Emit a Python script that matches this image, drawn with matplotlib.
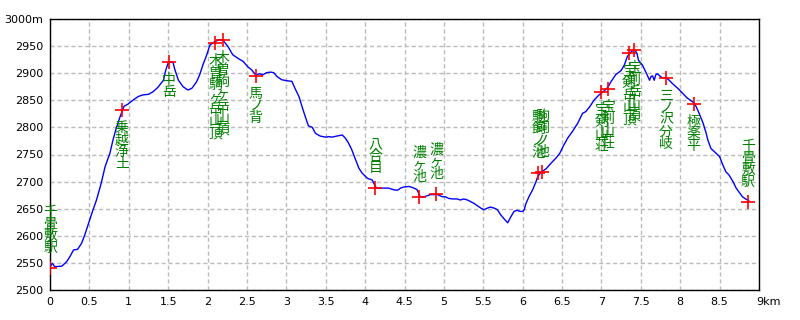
import matplotlib
matplotlib.use("Agg")
import matplotlib.pyplot as plt
from matplotlib.transforms import offset_copy

# elevation profile (km, m)
dist_km = [0.00, 0.03, 0.06, 0.15, 0.21, 0.25, 0.30, 0.35, 0.40, 0.44, 0.49, 0.53,
           0.59, 0.65, 0.70, 0.76, 0.80, 0.84, 0.89, 0.94, 0.99, 1.06, 1.12, 1.18,
           1.25, 1.31, 1.37, 1.44, 1.47, 1.50, 1.56, 1.58, 1.63, 1.69, 1.75, 1.80,
           1.86, 1.90, 1.94, 1.99, 2.03, 2.09, 2.15, 2.20, 2.26, 2.32, 2.39, 2.45,
           2.51, 2.56, 2.61, 2.66, 2.70, 2.75, 2.80, 2.84, 2.88, 2.94, 3.01, 3.07,
           3.11, 3.16, 3.20, 3.24, 3.28, 3.33, 3.37, 3.43, 3.50, 3.54, 3.58, 3.64,
           3.71, 3.75, 3.79, 3.83, 3.88, 3.92, 3.96, 4.03, 4.09, 4.13, 4.15, 4.24,
           4.30, 4.36, 4.41, 4.45, 4.49, 4.56, 4.62, 4.66, 4.70, 4.75, 4.79, 4.83,
           4.92, 4.98, 5.02, 5.06, 5.11, 5.17, 5.21, 5.25, 5.30, 5.34, 5.38, 5.42,
           5.47, 5.51, 5.55, 5.59, 5.64, 5.68, 5.72, 5.76, 5.81, 5.85, 5.89, 5.93,
           5.97, 6.00, 6.02, 6.04, 6.08, 6.13, 6.17, 6.19, 6.23, 6.30, 6.36, 6.42,
           6.47, 6.51, 6.57, 6.63, 6.70, 6.76, 6.80, 6.85, 6.91, 6.97, 7.04, 7.08,
           7.12, 7.18, 7.25, 7.29, 7.33, 7.38, 7.42, 7.45, 7.47, 7.52, 7.54, 7.58,
           7.61, 7.63, 7.65, 7.67, 7.69, 7.71, 7.74, 7.78, 7.82, 7.86, 7.90, 7.97,
           8.03, 8.09, 8.16, 8.20, 8.24, 8.29, 8.33, 8.35, 8.39, 8.45, 8.50, 8.54,
           8.58, 8.62, 8.67, 8.71, 8.75, 8.79, 8.83, 8.87]
elev_m = [2543, 2549, 2543, 2544, 2552, 2561, 2574, 2575, 2586, 2601, 2623, 2641,
          2666, 2697, 2728, 2752, 2777, 2798, 2820, 2839, 2843, 2851, 2857, 2860,
          2861, 2866, 2874, 2887, 2906, 2919, 2921, 2909, 2887, 2875, 2869, 2872,
          2884, 2897, 2915, 2934, 2952, 2958, 2962, 2960, 2949, 2934, 2927, 2922,
          2912, 2906, 2897, 2899, 2897, 2901, 2902, 2901, 2894, 2888, 2886, 2885,
          2872, 2857, 2838, 2820, 2803, 2800, 2789, 2784, 2782, 2783, 2782, 2784,
          2786, 2780, 2771, 2759, 2740, 2725, 2716, 2706, 2703, 2691, 2688, 2688,
          2688, 2685, 2684, 2688, 2690, 2691, 2688, 2685, 2672, 2672, 2674, 2676,
          2676, 2672, 2672, 2669, 2668, 2668, 2666, 2668, 2666, 2663, 2660, 2656,
          2651, 2648, 2651, 2653, 2651, 2648, 2639, 2632, 2624, 2635, 2645, 2647,
          2645, 2645, 2648, 2659, 2672, 2686, 2700, 2709, 2717, 2724, 2734, 2743,
          2752, 2764, 2780, 2792, 2808, 2826, 2829, 2838, 2851, 2860, 2868, 2874,
          2884, 2897, 2905, 2915, 2931, 2940, 2943, 2937, 2924, 2915, 2909, 2897,
          2887, 2894, 2895, 2887, 2897, 2899, 2895, 2891, 2892, 2887, 2881, 2872,
          2863, 2854, 2847, 2839, 2826, 2808, 2789, 2777, 2761, 2753, 2746, 2731,
          2718, 2712, 2700, 2688, 2680, 2672, 2668, 2665]

# waypoints
wp_names = ["千畳敷駅", "乗越浄土", "中岳", "木曽駒ヶ岳山頂", "木曽駒ヶ岳山頂", "馬ノ背",
            "八合目", "濃ヶ池", "濃ヶ池", "駒飼ノ池", "駒飼ノ池", "宝剣山荘", "宝剣山荘",
            "宝剣岳山頂", "宝剣岳山頂", "三ノ沢分岐", "極楽平", "千畳敷駅"]
wp_km = [0.00, 0.91, 1.51, 2.10, 2.19, 2.61, 4.13, 4.69, 4.90, 6.20, 6.25,
         7.00, 7.08, 7.35, 7.41, 7.82, 8.17, 8.86]
wp_m = [2541, 2832, 2921, 2955, 2962, 2895, 2688, 2672, 2677, 2716, 2717,
        2865, 2871, 2937, 2943, 2892, 2843, 2663]
wp_above = [True, False, False, False, False, False, True, True, True, True, True,
            False, False, False, False, False, False, True]

x_ticks = [i * 0.5 for i in range(19)]
x_labels = ["0", "0.5", "1", "1.5", "2", "2.5", "3", "3.5", "4", "4.5", "5",
            "5.5", "6", "6.5", "7", "7.5", "8", "8.5", "9km"]
y_ticks = list(range(2500, 3001, 50))
y_labels = [str(v) for v in y_ticks[:-1]] + ["3000m"]

fig = plt.figure(figsize=(8, 3.2), dpi=100)
ax = fig.add_axes([50 / 800, 30 / 320, 709 / 800, 271 / 320])

ax.plot(dist_km, elev_m, color="#0000ff", lw=1.0, zorder=3)
ax.plot(wp_km, wp_m, ls="none", marker="+", ms=10, mew=1.2, color="#ff0000", zorder=4)

jp = ["Noto Sans CJK JP", "DejaVu Sans"]
for name, x, y, up in zip(wp_names, wp_km, wp_m, wp_above):
    txt = "\n".join(name)
    if up:
        ax.annotate(txt, (x, y), xytext=(0, 13), textcoords="offset pixels",
                    ha="center", va="bottom", fontsize=10, color="#008000",
                    linespacing=0.82, family=jp, zorder=5, annotation_clip=False)
    else:
        ax.annotate(txt, (x, y), xytext=(0, -11), textcoords="offset pixels",
                    ha="center", va="top", fontsize=10, color="#008000",
                    linespacing=0.82, family=jp, zorder=5, annotation_clip=False)

ax.set_xlim(0, 9)
ax.set_ylim(2500, 3000)
ax.set_xticks(x_ticks)
ax.set_xticklabels(x_labels, fontsize=8)
ax.set_yticks(y_ticks)
ax.set_yticklabels(y_labels, fontsize=8)
ax.tick_params(length=0, pad=5)

last = ax.get_xticklabels()[-1]
last.set_horizontalalignment("left")
last.set_transform(offset_copy(last.get_transform(), fig=fig, x=-3, y=0, units="dots"))

ax.grid(True, color="#bbbbbb", ls=(0, (3, 2)), lw=1.0)
for s in ax.spines.values():
    s.set_color("black")
    s.set_linewidth(1.0)

fig.savefig("out.png", dpi=100)
